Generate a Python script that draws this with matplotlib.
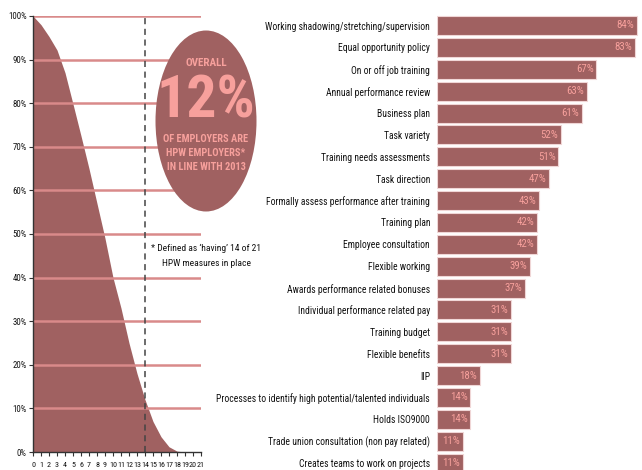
import matplotlib
matplotlib.use("Agg")
import matplotlib.pyplot as plt
from matplotlib.patches import Ellipse
from matplotlib import font_manager

# ---------------- data ----------------
measures_x = list(range(22))
pct_employers = [100, 98, 95.3, 92.2, 87, 79.8, 72.5, 65, 57, 49, 40, 33, 25, 18, 12, 7, 3.5, 1.2, 0.2, 0, 0, 0]
threshold = 14
y_ticks = [0, 10, 20, 30, 40, 50, 60, 70, 80, 90, 100]

categories = [
    "Working shadowing/stretching/supervision",
    "Equal opportunity policy",
    "On or off job training",
    "Annual performance review",
    "Business plan",
    "Task variety",
    "Training needs assessments",
    "Task direction",
    "Formally assess performance after training",
    "Training plan",
    "Employee consultation",
    "Flexible working",
    "Awards performance related bonuses",
    "Individual performance related pay",
    "Training budget",
    "Flexible benefits",
    "IIP",
    "Processes to identify high potential/talented individuals",
    "Holds ISO9000",
    "Trade union consultation (non pay related)",
    "Creates teams to work on projects",
]
values = [84, 83, 67, 63, 61, 52, 51, 47, 43, 42, 42, 39, 37, 31, 31, 31, 18, 14, 14, 11, 11]

# ---------------- style ----------------
names = {f.name for f in font_manager.fontManager.ttflist}
narrow = None
for cand in ["Roboto Condensed", "Liberation Sans Narrow", "Open Sans Condensed"]:
    if cand in names:
        narrow = cand
        break
FONT = dict(family=[narrow or "DejaVu Sans", "DejaVu Sans"])
if narrow is None:
    FONT["stretch"] = "condensed"

FILL = "#a06161"
GRID = "#d98a8a"
PINK = "#f7a09c"
DARK = "#111111"

W, H = 642, 470
fig = plt.figure(figsize=(W / 100, H / 100), dpi=100)

# ---------------- left chart ----------------
axL = fig.add_axes([33 / W, (H - 452) / H, 168 / W, 436 / H])
axL.fill_between(measures_x, pct_employers, 0, color=FILL, lw=0, zorder=2)
for yv in y_ticks[1:]:
    axL.axhline(yv, color=GRID, lw=1.8, zorder=3)
axL.axvline(threshold, color="#444444", lw=1.1, ls=(0, (4, 3)), zorder=4)
axL.set_xlim(0, 21)
axL.set_ylim(0, 100)
axL.set_xticks(measures_x)
axL.set_xticklabels([str(v) for v in measures_x], fontsize=5.8, color=DARK, **FONT)
axL.set_yticks(y_ticks)
axL.set_yticklabels([f"{v}%" for v in y_ticks], fontsize=6.3, color=DARK, **FONT)
axL.tick_params(axis="both", length=3, width=0.8, color="#333333", pad=1.5)
axL.tick_params(axis="x", pad=4)
for s in ["top", "right"]:
    axL.spines[s].set_visible(False)
for s in ["left", "bottom"]:
    axL.spines[s].set_color("#333333")
    axL.spines[s].set_linewidth(1.0)
    axL.spines[s].set_zorder(5)
axL.patch.set_alpha(0)

# circle callout
ell = Ellipse((206 / W, (H - 121) / H), 101 / W, 181 / H, transform=fig.transFigure,
              facecolor=FILL, edgecolor="none", zorder=10)
fig.add_artist(ell)
cx = 206 / W
fig.text(cx, (H - 63) / H, "OVERALL", ha="center", va="center", fontsize=8, color=PINK,
         fontweight="bold", zorder=11, **FONT)
fig.text(cx, (H - 101) / H, "12%", ha="center", va="center", fontsize=43, color=PINK,
         fontweight="bold", zorder=11, **FONT)
for i, line in enumerate(["OF EMPLOYERS ARE", "HPW EMPLOYERS*", "IN LINE WITH 2013"]):
    fig.text(cx, (H - 139 - i * 13.8) / H, line, ha="center", va="center", fontsize=7.5,
             color=PINK, fontweight="bold", zorder=11, **FONT)

fig.text(206 / W, (H - 248) / H, "* Defined as \u2018having\u2019 14 of 21", ha="center", va="center",
         fontsize=6.8, color=DARK, **FONT)
fig.text(206 / W, (H - 264) / H, "HPW measures in place", ha="center", va="center",
         fontsize=6.8, color=DARK, **FONT)

# ---------------- right bar chart ----------------
top_px, step = 25.5, 21.88
ax_top = top_px - step / 2
ax_bot = top_px + step * 20.5
axR = fig.add_axes([437 / W, (H - ax_bot) / H, (W - 437) / W, (ax_bot - ax_top) / H])
ypos = list(range(len(categories)))
axR.barh(ypos, values, height=0.87, color=FILL, edgecolor="#f0d6d6", linewidth=0.8)
axR.set_xlim(0, (W - 437) / 2.38)
axR.set_ylim(len(categories) - 0.5, -0.5)
axR.set_yticks(ypos)
axR.set_yticklabels(categories, fontsize=6.9, color=DARK, **FONT)
axR.tick_params(axis="y", length=0, pad=5)
axR.set_xticks([])
for s in axR.spines.values():
    s.set_visible(False)
axR.patch.set_alpha(0)
for yv, v in zip(ypos, values):
    axR.text(v - 1.2, yv, f"{v}%", ha="right", va="center", fontsize=7.8, color=PINK,
             **FONT)

fig.savefig("out.png", dpi=100)
